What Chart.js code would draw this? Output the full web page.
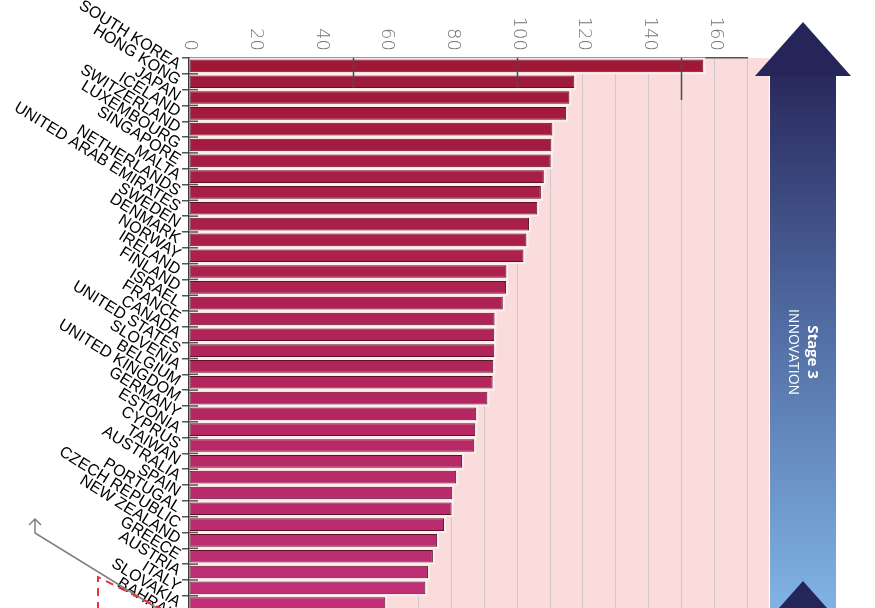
<!DOCTYPE html>
<html>
<head>
<meta charset="utf-8">
<script src="https://cdn.jsdelivr.net/npm/chart.js@4.4.1/dist/chart.umd.min.js"></script>
<style>
  html, body { margin: 0; padding: 0; background: #fff; width: 875px; height: 608px; overflow: hidden; }
  #wrap { width: 875px; height: 640px; }
</style>
</head>
<body>
<div id="wrap"><canvas id="myChart" width="875" height="640"></canvas></div>
<script>
// countries, top to bottom
const countries = ['SOUTH KOREA', 'HONG KONG', 'JAPAN', 'ICELAND', 'SWITZERLAND', 'LUXEMBOURG', 'SINGAPORE',
  'MALTA', 'NETHERLANDS', 'UNITED ARAB EMIRATES', 'SWEDEN', 'DENMARK', 'NORWAY', 'IRELAND', 'FINLAND',
  'ISRAEL', 'FRANCE', 'CANADA', 'UNITED STATES', 'SLOVENIA', 'BELGIUM', 'UNITED KINGDOM', 'GERMANY',
  'ESTONIA', 'CYPRUS', 'TAIWAN', 'AUSTRALIA', 'SPAIN', 'PORTUGAL', 'CZECH REPUBLIC', 'NEW ZEALAND',
  'GREECE', 'AUSTRIA', 'ITALY', 'SLOVAKIA', 'BAHRAIN'];

const scores = [156.7, 117.4, 115.9, 114.9, 110.7, 110.4, 110.2,
  108.1, 107.2, 106.1, 103.6, 102.8, 101.9, 96.7, 96.6,
  95.6, 93.1, 93.0, 93.0, 92.7, 92.5, 90.9, 87.5,
  87.2, 86.9, 83.2, 81.4, 80.2, 80.0, 77.7, 75.6,
  74.3, 72.8, 72.0, 59.8, 58.0];

const tickValues = [0, 20, 40, 60, 80, 100, 120, 140, 160];
const majorTicks = [50, 100, 150];

const ctx = document.getElementById('myChart');

// bar colour goes from crimson at the top to magenta at the bottom
const topColor = [160, 24, 54];
const bottomColor = [193, 48, 122];
const barColors = countries.map((c, i) => {
  const t = i / (countries.length - 1);
  const rgb = topColor.map((v, k) => Math.round(v + (bottomColor[k] - v) * t));
  return 'rgb(' + rgb.join(',') + ')';
});

const decorations = {
  id: 'decorations',
  beforeDraw(chart) {
    const c = chart.ctx;
    const area = chart.chartArea;
    c.save();
    c.fillStyle = '#fadcdd';
    c.fillRect(area.left, area.top, 769 - area.left, area.bottom - area.top);
    c.restore();
  },
  beforeDatasetsDraw(chart) {
    // pale halo round each bar
    const c = chart.ctx;
    c.save();
    c.fillStyle = '#fdeeee';
    chart.getDatasetMeta(0).data.forEach(bar => {
      const p = bar.getProps(['x', 'y', 'base', 'height'], true);
      c.fillRect(p.base, p.y - p.height / 2 - 2, p.x - p.base + 2, p.height + 4);
    });
    c.restore();
  },
  afterDatasetsDraw(chart) {
    const c = chart.ctx;
    const area = chart.chartArea;
    const xs = chart.scales.x;
    const ys = chart.scales.y;
    c.save();
    // dark marks on the top axis
    c.strokeStyle = '#4a4a4a';
    c.lineWidth = 1.5;
    majorTicks.forEach((v, i) => {
      const px = Math.round(xs.getPixelForValue(v)) + 0.5;
      c.beginPath();
      c.moveTo(px, area.top);
      c.lineTo(px, area.top + (i === 2 ? 42 : 30));
      c.stroke();
    });
    // small ticks poking into the plot between bars
    c.strokeStyle = '#555';
    c.lineWidth = 1.5;
    for (let i = 1; i < countries.length; i++) {
      const py = (ys.getPixelForValue(i - 1) + ys.getPixelForValue(i)) / 2;
      c.beginPath();
      c.moveTo(area.left, py);
      c.lineTo(area.left + 9, py);
      c.stroke();
    }
    c.restore();
  },
  afterDraw(chart) {
    const c = chart.ctx;
    const xs = chart.scales.x;
    c.save();
    // top tick labels, turned clockwise
    c.fillStyle = '#767676';
    c.font = '300 18px "DejaVu Sans"';
    c.textAlign = 'right';
    c.textBaseline = 'middle';
    tickValues.forEach(v => {
      c.save();
      c.translate(xs.getPixelForValue(v) + 1, 51);
      c.rotate(Math.PI / 2);
      c.fillText(String(v), 0, 0);
      c.restore();
    });

    // stage arrow
    const grad = c.createLinearGradient(0, 76, 0, 608);
    grad.addColorStop(0, '#29295e');
    grad.addColorStop(0.45, '#4f6aa0');
    grad.addColorStop(1, '#80b3e4');
    c.fillStyle = grad;
    c.fillRect(770, 74, 66, 570);
    c.fillStyle = '#26255a';
    c.beginPath();
    c.moveTo(803, 22);
    c.lineTo(851, 76);
    c.lineTo(755, 76);
    c.closePath();
    c.fill();
    c.beginPath();
    c.moveTo(803, 581);
    c.lineTo(851, 635);
    c.lineTo(755, 635);
    c.closePath();
    c.fill();
    c.save();
    c.translate(803, 352);
    c.rotate(Math.PI / 2);
    c.fillStyle = '#ffffff';
    c.textAlign = 'center';
    c.textBaseline = 'middle';
    c.font = 'bold 15px "Open Sans"';
    c.fillText('Stage 3', 0, -9);
    c.font = '14px "Open Sans"';
    c.fillText('INNOVATION', 0, 10);
    c.restore();

    // grey pointer, bottom left
    c.strokeStyle = '#808080';
    c.lineWidth = 1.5;
    c.beginPath();
    c.moveTo(29, 525);
    c.lineTo(35, 519);
    c.lineTo(41, 525);
    c.moveTo(35, 519);
    c.lineTo(35, 533);
    c.lineTo(160, 610);
    c.stroke();

    // red dashed box
    c.strokeStyle = '#e2363a';
    c.lineWidth = 2;
    c.setLineDash([8, 6]);
    c.beginPath();
    c.moveTo(98, 610);
    c.lineTo(98, 577);
    c.lineTo(170, 613);
    c.stroke();
    c.restore();
  }
};

new Chart(ctx, {
  type: 'bar',
  data: {
    labels: countries,
    datasets: [{
      data: scores,
      backgroundColor: barColors,
      borderColor: '#5e1228',
      borderWidth: 1,
      borderSkipped: false,
      barPercentage: 0.8,
      categoryPercentage: 1
    }]
  },
  options: {
    indexAxis: 'y',
    responsive: false,
    animation: false,
    devicePixelRatio: 1,
    layout: { padding: { top: 0, left: 0, right: 128, bottom: 8 } },
    plugins: {
      legend: { display: false },
      tooltip: { enabled: false }
    },
    scales: {
      x: {
        position: 'top',
        min: 0,
        max: 170,
        ticks: { display: false, stepSize: 10 },
        grid: { color: '#cfc8c8', lineWidth: 1, drawTicks: false },
        border: { display: true, color: '#555', width: 1.5 },
        afterFit(scale) { scale.height = 58; }
      },
      y: {
        ticks: {
          autoSkip: false,
          minRotation: -32,
          maxRotation: -32,
          padding: 3,
          color: '#000',
          font: { family: '"Liberation Sans", Arial, sans-serif', size: 16 }
        },
        grid: { drawOnChartArea: false, tickLength: 7, color: '#555', lineWidth: 1.5, offset: true },
        border: { display: true, color: '#3a3a3a', width: 1.5 },
        afterFit(scale) { scale.width = 189; }
      }
    }
  },
  plugins: [decorations]
});
</script>
</body>
</html>
